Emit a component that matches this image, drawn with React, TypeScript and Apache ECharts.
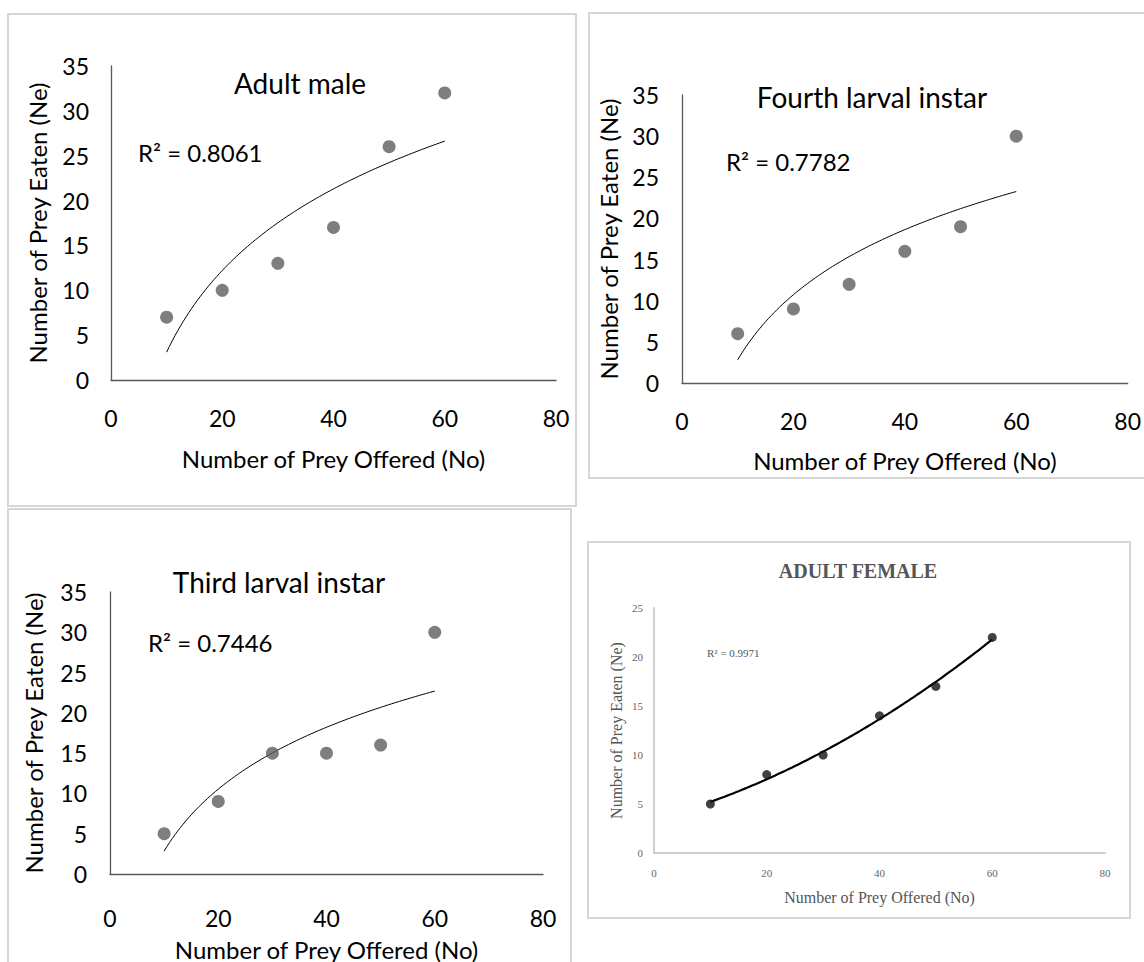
import React, { useEffect, useRef } from 'react';
import * as echarts from 'echarts';

// ---- data ----
const offered = [10, 20, 30, 40, 50, 60];
const adultMaleEaten = [7, 10, 13, 17, 26, 32];
const fourthInstarEaten = [6, 9, 12, 16, 19, 30];
const thirdInstarEaten = [5, 9, 15, 15, 16, 30];
const adultFemaleEaten = [5, 8, 10, 14, 17, 22];

const panelTitles = ['Adult male', 'Fourth larval instar', 'Third larval instar', 'ADULT FEMALE'];
const r2Labels = ['R² = 0.8061', 'R² = 0.7782', 'R² = 0.7446', 'R² = 0.9971'];
const xAxisTitle = 'Number of Prey Offered (No)';
const yAxisTitle = 'Number of Prey Eaten (Ne)';
const xAxisMax = 80;
const xAxisStep = 20;
const excelYMax = 35;
const femaleYMax = 25;
const yStep = 5;

// ---- regression trendlines (computed from data) ----
function logFit(xs: number[], ys: number[]) {
  const lx = xs.map(Math.log);
  const n = xs.length;
  const mx = lx.reduce((a, b) => a + b, 0) / n;
  const my = ys.reduce((a, b) => a + b, 0) / n;
  let sxx = 0, sxy = 0;
  for (let i = 0; i < n; i++) {
    sxx += (lx[i] - mx) ** 2;
    sxy += (lx[i] - mx) * (ys[i] - my);
  }
  const a = sxy / sxx;
  const b = my - a * mx;
  return (x: number) => a * Math.log(x) + b;
}

function quadFit(xs: number[], ys: number[]) {
  const n = xs.length;
  let s1 = 0, s2 = 0, s3 = 0, s4 = 0, t0 = 0, t1 = 0, t2 = 0;
  for (let i = 0; i < n; i++) {
    const x = xs[i], y = ys[i];
    s1 += x; s2 += x * x; s3 += x ** 3; s4 += x ** 4;
    t0 += y; t1 += x * y; t2 += x * x * y;
  }
  const M = [[n, s1, s2], [s1, s2, s3], [s2, s3, s4]];
  const v = [t0, t1, t2];
  const det = (m: number[][]) =>
    m[0][0] * (m[1][1] * m[2][2] - m[1][2] * m[2][1]) -
    m[0][1] * (m[1][0] * m[2][2] - m[1][2] * m[2][0]) +
    m[0][2] * (m[1][0] * m[2][1] - m[1][1] * m[2][0]);
  const D = det(M);
  const coef = [0, 1, 2].map((k) => {
    const Mk = M.map((row, r) => row.map((val, c) => (c === k ? v[r] : val)));
    return det(Mk) / D;
  });
  return (x: number) => coef[0] + coef[1] * x + coef[2] * x * x;
}

function curve(fn: (x: number) => number, xs: number[]) {
  const lo = Math.min(...xs), hi = Math.max(...xs);
  const pts: number[][] = [];
  for (let x = lo; x <= hi + 1e-9; x += 0.5) pts.push([x, fn(x)]);
  return pts;
}

const zip = (xs: number[], ys: number[]) => xs.map((x, i) => [x, ys[i]]);

const EXCEL_FONT = 'Lato, "Open Sans", sans-serif';
const SERIF = '"Liberation Serif", "DejaVu Serif", serif';

export default function App() {
  const ref = useRef<HTMLDivElement>(null);

  useEffect(() => {
    if (!ref.current) return;
    const chart = echarts.init(ref.current, undefined, { renderer: 'svg' });

    const grids = [
      { left: 111, top: 66, width: 445, height: 314 },
      { left: 682, top: 95, width: 453, height: 288 },
      { left: 110, top: 592, width: 433, height: 283 },
      { left: 654, top: 608, width: 451, height: 245 },
    ];
    const xLabelMargins = [26, 26, 32, 14];
    const xNameGaps = [66, 65, 63, 36];
    const yNameGaps = [62, 62, 65, 30];
    const yLabelMargins = [22, 23, 23, 11];

    const xAxes = grids.map((_, i) => {
      const excel = i < 3;
      return {
        type: 'value',
        gridIndex: i,
        min: 0,
        max: xAxisMax,
        interval: xAxisStep,
        splitLine: { show: false },
        axisTick: { show: false },
        axisLine: {
          show: true,
          lineStyle: excel ? { color: '#595959', width: 1.3 } : { color: '#cfcfcf', width: 2 },
        },
        axisLabel: excel
          ? { fontFamily: EXCEL_FONT, fontSize: 23, color: '#000', margin: xLabelMargins[i] }
          : { fontFamily: SERIF, fontSize: 11, color: '#666', margin: xLabelMargins[i] },
        name: xAxisTitle,
        nameLocation: 'middle',
        nameGap: xNameGaps[i],
        nameTextStyle: excel
          ? { fontFamily: EXCEL_FONT, fontSize: 24, color: '#000' }
          : { fontFamily: SERIF, fontSize: 16, color: '#555' },
      };
    });

    const yAxes = grids.map((_, i) => {
      const excel = i < 3;
      return {
        type: 'value',
        gridIndex: i,
        min: 0,
        max: excel ? excelYMax : femaleYMax,
        interval: yStep,
        splitLine: { show: false },
        axisTick: { show: false },
        axisLine: {
          show: true,
          lineStyle: excel ? { color: '#595959', width: 1.3 } : { color: '#cfcfcf', width: 2 },
        },
        axisLabel: excel
          ? { fontFamily: EXCEL_FONT, fontSize: 23, color: '#000', margin: yLabelMargins[i] }
          : { fontFamily: SERIF, fontSize: 11, color: '#666', margin: yLabelMargins[i] },
        name: yAxisTitle,
        nameLocation: 'middle',
        nameGap: yNameGaps[i],
        nameTextStyle: excel
          ? { fontFamily: EXCEL_FONT, fontSize: 24, color: '#000' }
          : { fontFamily: SERIF, fontSize: 16, color: '#555' },
      };
    });

    const eaten = [adultMaleEaten, fourthInstarEaten, thirdInstarEaten, adultFemaleEaten];
    const series: any[] = [];
    eaten.forEach((ys, i) => {
      const excel = i < 3;
      const fit = excel ? logFit(offered, ys) : quadFit(offered, ys);
      series.push({
        type: 'line',
        xAxisIndex: i,
        yAxisIndex: i,
        data: curve(fit, offered),
        showSymbol: false,
        symbol: 'none',
        lineStyle: { color: '#000', width: excel ? 1 : 2.2 },
        z: 2,
      });
      series.push({
        type: 'scatter',
        xAxisIndex: i,
        yAxisIndex: i,
        data: zip(offered, ys),
        symbol: 'circle',
        symbolSize: excel ? 13 : 9,
        itemStyle: { color: excel ? '#5e5e5e' : '#111' },
        z: 3,
      });
    });

    const frame = (x: number, y: number, w: number, h: number) => ({
      type: 'rect',
      shape: { x, y, width: w, height: h },
      style: { fill: 'none', stroke: '#d6d6d6', lineWidth: 2 },
      silent: true,
      z: -1,
    });
    const text = (t: string, x: number, y: number, opts: any) => ({
      type: 'text',
      x,
      y,
      style: {
        text: t,
        textAlign: opts.align || 'left',
        textVerticalAlign: 'middle',
        align: opts.align || 'left',
        verticalAlign: 'middle',
        fontFamily: opts.family,
        fontSize: opts.size,
        fontWeight: opts.weight || 'normal',
        fill: opts.color || '#000',
      },
      silent: true,
    });

    const graphic = [
      frame(8, 14, 568, 492),
      frame(589, 13, 600, 465),
      frame(8, 509, 563, 500),
      frame(588, 542, 542, 376),
      text(panelTitles[0], 300, 83, { align: 'center', family: EXCEL_FONT, size: 28 }),
      text(panelTitles[1], 872, 97, { align: 'center', family: EXCEL_FONT, size: 28 }),
      text(panelTitles[2], 279, 582, { align: 'center', family: EXCEL_FONT, size: 28 }),
      text(panelTitles[3], 858, 571, { align: 'center', family: SERIF, size: 20, weight: 'bold', color: '#555' }),
      text(r2Labels[0], 138, 152, { family: EXCEL_FONT, size: 24 }),
      text(r2Labels[1], 726, 161, { family: EXCEL_FONT, size: 24 }),
      text(r2Labels[2], 148, 642, { family: EXCEL_FONT, size: 24 }),
      text(r2Labels[3], 707, 653, { family: SERIF, size: 11, color: '#555' }),
    ];

    chart.setOption({
      animation: false,
      backgroundColor: '#fff',
      grid: grids,
      xAxis: xAxes,
      yAxis: yAxes,
      series,
      graphic,
    });

    return () => chart.dispose();
  }, []);

  return (
    <div
      ref={ref}
      style={{ position: 'absolute', left: 0, top: 0, width: 1144, height: 962, background: '#fff' }}
    />
  );
}
